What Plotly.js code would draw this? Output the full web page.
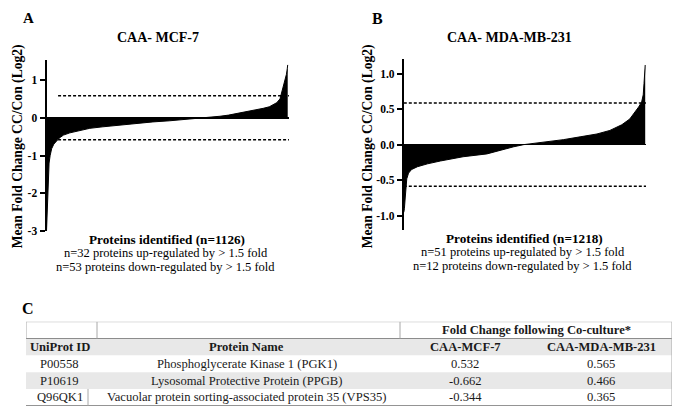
<!DOCTYPE html>
<html>
<head>
<meta charset="utf-8">
<script src="https://cdn.plot.ly/plotly-3.0.1.min.js"></script>
<style>html,body{margin:0;padding:0;background:#fff;}#chart{width:677px;height:413px;}</style>
</head>
<body>
<div id="chart"></div>
<script>
// ---- Panel A: CAA- MCF-7 (sorted protein rank vs mean log2 fold change) ----
var rankA = [1,4,6,9,13,18,25,35,45,53,65,80,110,150,203,264,343,420,497,576,655,720,770,810,850,888,920,950,985,1012,1040,1059,1075,1090,1094,1100,1108,1115,1120,1124,1126];
var valA  = [-3.0,-2.6,-2.0,-1.6,-1.2,-1.0,-0.82,-0.70,-0.62,-0.585,-0.52,-0.46,-0.40,-0.34,-0.28,-0.24,-0.19,-0.14,-0.11,-0.08,-0.04,-0.02,0.0,0.04,0.07,0.11,0.14,0.18,0.22,0.25,0.29,0.34,0.40,0.50,0.585,0.70,0.85,1.0,1.15,1.30,1.40];
// ---- Panel B: CAA- MDA-MB-231 ----
var rankB = [1,4,8,12,16,25,40,70,120,185,235,300,420,470,555,605,720,805,890,975,1040,1100,1140,1165,1185,1200,1208,1212,1216,1218];
var valB  = [-0.95,-0.90,-0.75,-0.585,-0.48,-0.40,-0.35,-0.31,-0.27,-0.23,-0.20,-0.17,-0.13,-0.09,-0.03,0.0,0.04,0.07,0.11,0.15,0.20,0.28,0.36,0.45,0.53,0.60,0.70,0.86,1.0,1.12];

var thresholds = [0.585, -0.585];           // log2(1.5) cut-offs
var tickValsA = [-3,-2,-1,0,1];
var tickTextA = ["-3","-2","-1","0","1"];
var tickValsB = [-1,-0.5,0,0.5,1];
var tickTextB = ["-1.0","-0.5","0.0","0.5","1.0"];

var panelLetters = ["A","B","C"];
var panelTitles = ["CAA- MCF-7","CAA- MDA-MB-231"];
var yTitle = "Mean Fold Change CC/Con (Log2)";
var summaryA = ["Proteins identified (n=1126)","n=32 proteins up-regulated by > 1.5 fold","n=53 proteins down-regulated by > 1.5 fold"];
var summaryB = ["Proteins identified (n=1218)","n=51 proteins up-regulated by > 1.5 fold","n=12 proteins down-regulated by > 1.5 fold"];

// ---- Panel C: table ----
var tableSpanHeader = "Fold Change following Co-culture*";
var tableHeaders = ["UniProt ID","Protein Name","CAA-MCF-7","CAA-MDA-MB-231"];
var uniprotIds = ["P00558","P10619","Q96QK1"];
var proteinNames = ["Phosphoglycerate Kinase 1 (PGK1)","Lysosomal Protective Protein (PPGB)","Vacuolar protein sorting-associated protein 35 (VPS35)"];
var foldMCF7 = [0.532,-0.662,-0.344];
var foldMDA = [0.565,0.466,0.365];

var W = 677, H = 413;
function px(x){return x/W;}
function py(y){return 1 - y/H;}
var SERIF = "Liberation Serif";
var GRAY = "#e8e8e8";

// table geometry (style): column widths in px, table spans x 26..672, y 321.7..405.8
var colWidths = [67, 307, 130, 142];
var colEdges = [0];
colWidths.forEach(function(w, i){ colEdges.push(colEdges[i] + w); });
var tableW = colEdges[colEdges.length - 1];
function colCenter(i){ return (colEdges[i] + colEdges[i+1]) / 2; }

var dataCols = [uniprotIds, proteinNames,
                foldMCF7.map(function(v){return v.toFixed(3);}),
                foldMDA.map(function(v){return v.toFixed(3);})];
var nRows = 2 + uniprotIds.length;   // span header row, column header row, data rows
var rowFill = ["#ffffff", GRAY, "#ffffff", GRAY, "#ffffff"];

var traces = [
  {type:'scatter', mode:'lines', x:rankA, y:valA, fill:'tozeroy', fillcolor:'#000',
   line:{color:'#000', width:1}, xaxis:'x', yaxis:'y', hoverinfo:'skip', showlegend:false},
  {type:'scatter', mode:'lines', x:rankB, y:valB, fill:'tozeroy', fillcolor:'#000',
   line:{color:'#000', width:1}, xaxis:'x2', yaxis:'y2', hoverinfo:'skip', showlegend:false}
];

function yaxisCfg(domain, range, tv, tt){
  return {domain:domain, range:range, tickvals:tv, ticktext:tt, showline:true, linecolor:'#000', linewidth:2,
    ticks:'outside', ticklen:5, tickwidth:2, tickcolor:'#000', showgrid:false,
    zeroline:true, zerolinecolor:'#000', zerolinewidth:1.5, fixedrange:true,
    tickfont:{family:SERIF, size:11.5, color:'#000', weight:'bold'}};
}
function xaxisCfg(domain, range){
  return {domain:domain, range:range, visible:false, showgrid:false, zeroline:false, fixedrange:true};
}

var shapes = [];
thresholds.forEach(function(t){
  shapes.push({type:'line', xref:'x', yref:'y', x0:55, x1:1132, y0:t, y1:t, layer:'below',
               line:{color:'#000', width:1.5, dash:'3px,2px'}});
  shapes.push({type:'line', xref:'x2', yref:'y2', x0:1, x1:1222, y0:t, y1:t, layer:'below',
               line:{color:'#000', width:1.5, dash:'3px,2px'}});
});
// table: row backgrounds
rowFill.forEach(function(c, r){
  if (c !== "#ffffff") shapes.push({type:'rect', xref:'x3', yref:'y3', x0:0, x1:tableW, y0:r-0.5, y1:r+0.5,
    layer:'below', line:{width:0}, fillcolor:c});
});
// table rules
function hline(r, x0, x1, c, w){shapes.push({type:'line', xref:'x3', yref:'y3', x0:x0, x1:x1, y0:r, y1:r, line:{color:c, width:w}});}
function vline(x, r0, r1, c, w){shapes.push({type:'line', xref:'x3', yref:'y3', x0:x, x1:x, y0:r0, y1:r1, line:{color:c, width:w}});}
hline(-0.5, 0, tableW, '#a8a8a8', 1);
hline(0.5, 0, tableW, '#8c8c8c', 1.2);
hline(nRows - 0.5, 0, tableW, '#707070', 1.6);
vline(0, -0.5, 0.5, '#a8a8a8', 1);
vline(71, -0.5, 0.5, '#a8a8a8', 1);
vline(colEdges[2], -0.5, 0.5, '#a8a8a8', 1);
vline(tableW, -0.5, nRows - 0.5, '#a8a8a8', 1);
vline(62, nRows - 1.5, nRows - 0.5, '#a8a8a8', 1);

var ann = [];
function txt(t, x, y, size, bold, extra){
  var a = {text:t, xref:'paper', yref:'paper', x:px(x), y:py(y), xanchor:'center', yanchor:'middle',
    showarrow:false, font:{family:SERIF, size:size, color:'#000', weight: bold ? 'bold' : 'normal'}};
  if (extra) for (var k in extra) a[k] = extra[k];
  ann.push(a);
}
function cell(t, col, row, bold){
  ann.push({text:t, xref:'x3', yref:'y3', x:colCenter(col), y:row, xanchor:'center', yanchor:'middle',
    showarrow:false, font:{family:SERIF, size:12.6, color:'#1a1a1a', weight: bold ? 'bold' : 'normal'}});
}
txt(panelLetters[0], 28, 18, 15, true);
txt(panelLetters[1], 377, 18, 16, true);
txt(panelLetters[2], 28, 308, 16, true);
txt(panelTitles[0], 158, 37, 14, true);
txt(panelTitles[1], 510, 37, 14, true);
txt(yTitle, 18.3, 146, 13.6, true, {textangle:-90});
txt(yTitle, 368.3, 146, 13.6, true, {textangle:-90});
txt(summaryA[0], 167, 239, 13.2, true);
txt(summaryA[1], 165.5, 253, 12.5, false);
txt(summaryA[2], 165, 267, 12.5, false);
txt(summaryB[0], 524, 238, 13.2, true);
txt(summaryB[1], 523, 251.5, 12.5, false);
txt(summaryB[2], 522, 266, 12.5, false);
// table text
ann.push({text:tableSpanHeader, xref:'x3', yref:'y3', x:(colEdges[2] + tableW) / 2, y:0, xanchor:'center', yanchor:'middle',
  showarrow:false, font:{family:SERIF, size:12.6, color:'#1a1a1a', weight:'bold'}});
tableHeaders.forEach(function(h, c){ cell(h, c, 1, true); });
dataCols.forEach(function(col, c){
  col.forEach(function(v, r){ cell(v, c, r + 2, false); });
});

var layout = {
  width:W, height:H, margin:{l:0, r:0, t:0, b:0}, paper_bgcolor:'#fff', plot_bgcolor:'rgba(0,0,0,0)',
  showlegend:false,
  xaxis: xaxisCfg([px(46.5), px(289)], [1, 1132]),
  yaxis: yaxisCfg([py(231), py(60)], [-3, 1.53], tickValsA, tickTextA),
  xaxis2: xaxisCfg([px(403.8), px(646)], [1, 1222]),
  yaxis2: yaxisCfg([py(230), py(59.3)], [-1.2, 1.2], tickValsB, tickTextB),
  xaxis3: xaxisCfg([px(26), px(26 + tableW)], [0, tableW]),
  yaxis3: xaxisCfg([py(405.8), py(321.7)], [nRows - 0.5, -0.5]),
  shapes: shapes,
  annotations: ann
};
layout.yaxis.anchor = 'x';
layout.xaxis.anchor = 'y';
layout.yaxis2.anchor = 'x2';
layout.xaxis2.anchor = 'y2';
layout.yaxis3.anchor = 'x3';
layout.xaxis3.anchor = 'y3';

Plotly.newPlot('chart', traces, layout, {staticPlot:true, displayModeBar:false});
</script>
</body>
</html>
